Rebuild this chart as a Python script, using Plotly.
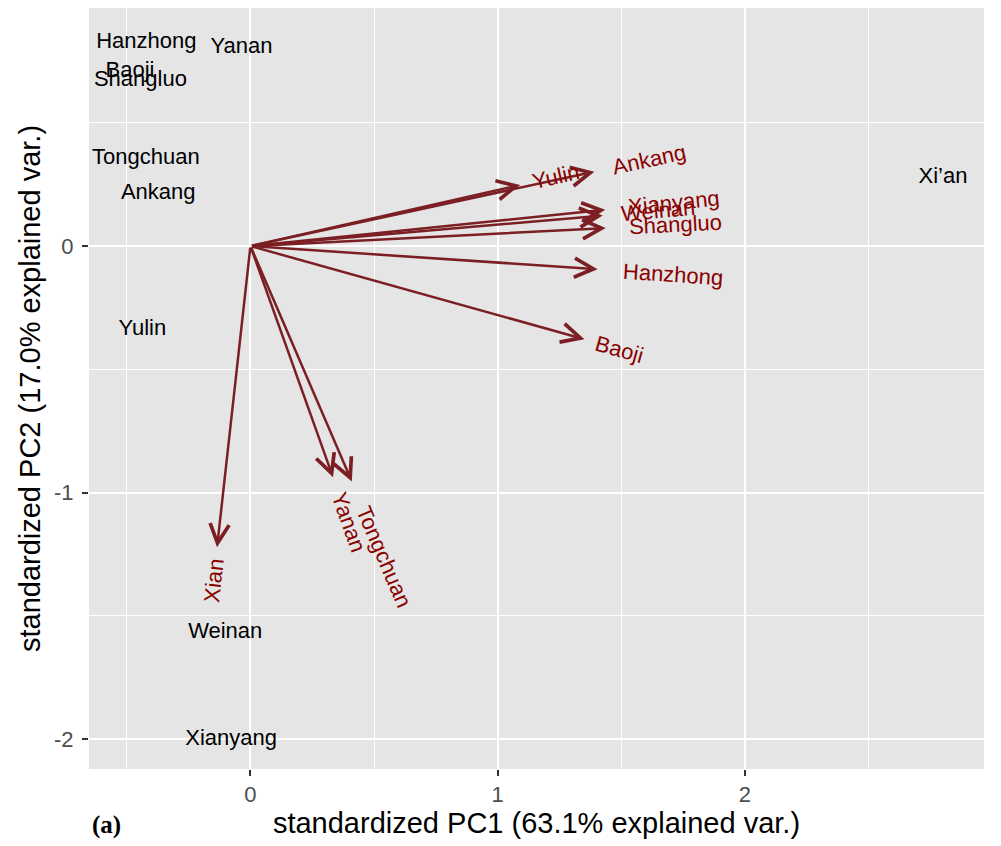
import math
import plotly

# 样本得分 (观测点标签)
obs_names = ["Hanzhong", "Yanan", "Baoji", "Shangluo", "Tongchuan", "Ankang",
             "Yulin", "Weinan", "Xianyang", "Xi’an"]
obs_pc1 = [-0.421, -0.036, -0.487, -0.445, -0.423, -0.373, -0.437, -0.102, -0.078, 2.801]
obs_pc2 = [0.825, 0.804, 0.710, 0.672, 0.357, 0.213, -0.340, -1.567, -2.003, 0.277]

# 变量载荷 (箭头)
var_names = ["Yulin", "Ankang", "Xianyang", "Weinan", "Shangluo", "Hanzhong",
             "Baoji", "Xian", "Yanan", "Tongchuan"]
var_pc1 = [1.091, 1.391, 1.435, 1.425, 1.437, 1.404, 1.351, -0.135, 0.334, 0.410]
var_pc2 = [0.248, 0.302, 0.147, 0.124, 0.073, -0.094, -0.378, -1.222, -0.938, -0.955]

x_ticks = [0, 1, 2]
y_ticks = [-2, -1, 0]
y_tick_text = ["-2", "-1", "0"]

x_title = "standardized PC1 (63.1% explained var.)"
y_title = "standardized PC2 (17.0% explained var.)"

# Helvetica 字宽 (1/1000 em)
char_w = {"X": 667, "i": 222, "a": 556, "n": 556, "y": 500, "g": 556, "W": 944,
          "e": 556, "S": 667, "h": 556, "l": 222, "u": 556, "o": 556, "H": 722,
          "z": 500, "B": 667, "j": 222, "T": 611, "c": 500, "A": 667, "k": 500,
          "Y": 667}


def text_width(s, size):
    return sum(char_w.get(ch, 556) for ch in s) * size / 1000.0


def draw_biplot():
    # 页面 body 自带 8px 边距, 画布相应缩小
    W, H = 993, 838
    m_l, m_r, m_t, m_b = 81, 17, 0, 77
    x_range = [-0.653, 2.967]
    y_range = [-2.122, 0.966]
    px_x = (W - m_l - m_r) / (x_range[1] - x_range[0])
    px_y = (H - m_t - m_b) / (y_range[1] - y_range[0])

    arrow_col = "#7B1F24"
    label_col = "#8B0000"
    lab_size = 22

    trace_obs = plotly.graph_objs.Scatter(
        x=obs_pc1, y=obs_pc2, text=obs_names, mode="text",
        textposition="middle center",
        textfont=dict(size=lab_size, color="black"),
        hoverinfo="text", showlegend=False
    )

    annotations = []
    # 箭头
    for vx, vy in zip(var_pc1, var_pc2):
        annotations.append(dict(
            x=vx, y=vy, ax=0, ay=0, xref="x", yref="y", axref="x", ayref="y",
            text="", showarrow=True, arrowhead=5, arrowsize=1.5,
            arrowwidth=2.5, arrowcolor=arrow_col, standoff=0
        ))
    # 变量名, 沿箭头方向旋转
    for name, vx, vy in zip(var_names, var_pc1, var_pc2):
        ang = math.degrees(math.atan(vy / vx))
        dx, dy = vx * px_x, vy * px_y
        ln = math.hypot(dx, dy)
        off = 0.75 * text_width(name, lab_size)
        annotations.append(dict(
            x=vx, y=vy, xref="x", yref="y", text=name, showarrow=False,
            textangle=-ang, xanchor="center", yanchor="middle",
            xshift=dx / ln * off, yshift=dy / ln * off,
            font=dict(size=lab_size, color=label_col)
        ))
    annotations.append(dict(
        x=0.0201, y=-0.074, xref="paper", yref="paper", text="<b>(a)</b>",
        showarrow=False, xanchor="center", yanchor="middle",
        font=dict(family="Liberation Serif", size=25, color="black")
    ))

    axis_common = dict(
        showgrid=True, gridcolor="white", gridwidth=2, zeroline=False,
        ticks="outside", ticklen=6, tickwidth=2, tickcolor="#333333",
        tickfont=dict(size=22, color="#4D4D4D"), showline=False,
        minor=dict(dtick=0.5, tick0=0, showgrid=True, gridcolor="white",
                   gridwidth=1, ticks="")
    )
    layout = plotly.graph_objs.Layout(
        width=W, height=H,
        margin=dict(l=m_l, r=m_r, t=m_t, b=m_b),
        paper_bgcolor="white", plot_bgcolor="#E5E5E5",
        font=dict(family="Liberation Sans, Arial", color="black"),
        xaxis=dict(range=x_range, tickvals=x_ticks,
                   title=dict(text=x_title, font=dict(size=29), standoff=6),
                   **axis_common),
        yaxis=dict(range=y_range, tickvals=y_ticks, ticktext=y_tick_text,
                   ticklabelstandoff=4,
                   title=dict(text=y_title, font=dict(size=29), standoff=4),
                   **axis_common),
        annotations=annotations, showlegend=False
    )
    figure = plotly.graph_objs.Figure(data=[trace_obs], layout=layout)
    figure.write_html("out.html")


if __name__ == "__main__":
    draw_biplot()
